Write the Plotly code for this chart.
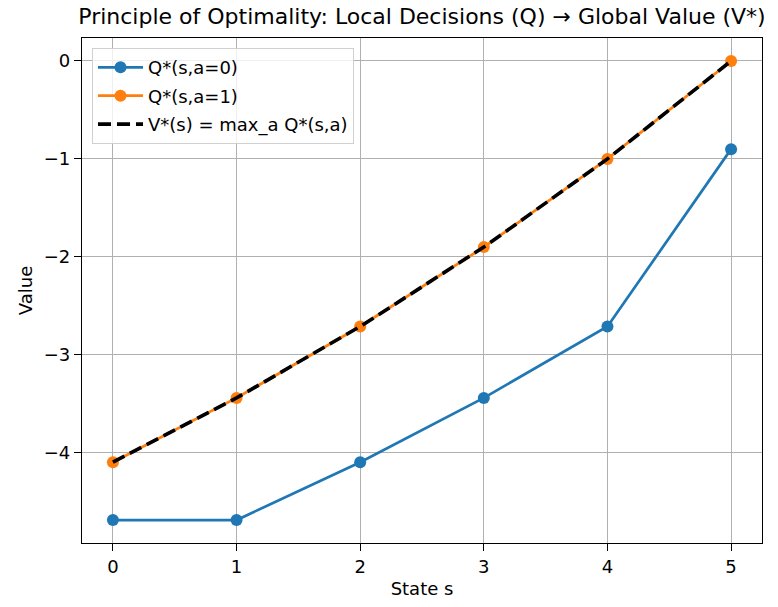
import plotly.graph_objects as go

# State indices and optimal action values
states = [0, 1, 2, 3, 4, 5]
q_a0 = [-4.6856, -4.6856, -4.0951, -3.439, -2.71, -0.9]
q_a1 = [-4.0951, -3.439, -2.71, -1.9, -1.0, 0.0]
v_star = [max(a, b) for a, b in zip(q_a0, q_a1)]

x_ticks = [0, 1, 2, 3, 4, 5]
y_ticks = [0, -1, -2, -3, -4]

BLUE = "#1f77b4"
ORANGE = "#ff7f0e"
FONT = "DejaVu Sans"

fig = go.Figure()
fig.add_trace(go.Scatter(
    x=states, y=q_a0, mode="lines+markers", name="Q*(s,a=0)", legendgroup="a0",
    line=dict(color=BLUE, width=2.7), marker=dict(color=BLUE, size=12),
))
fig.add_trace(go.Scatter(
    x=states, y=q_a1, mode="lines+markers", name="Q*(s,a=1)", legendgroup="a1",
    line=dict(color=ORANGE, width=2.7), marker=dict(color=ORANGE, size=12),
))
fig.add_trace(go.Scatter(
    x=states, y=v_star, mode="lines", name="V*(s) = max_a Q*(s,a)", legendgroup="v",
    line=dict(color="black", width=3.6, dash="13px,6px"),
))

axis_common = dict(
    showgrid=True, gridcolor="#b0b0b0", gridwidth=1.4,
    showline=True, linecolor="black", linewidth=1.4, mirror=True,
    ticks="outside", ticklen=7, tickwidth=1.4, tickcolor="black",
    zeroline=False, tickfont=dict(family=FONT, size=18, color="black"),
)

fig.update_layout(
    width=778, height=607,
    margin=dict(l=82, r=16, t=38, b=61),
    paper_bgcolor="white", plot_bgcolor="white",
    font=dict(family=FONT, color="black"),
    title=dict(
        text="Principle of Optimality: Local Decisions (Q) \u2192 Global Value (V*)",
        x=0.5, xref="paper", xanchor="center",
        y=1 - 16 / 607, yref="container", yanchor="middle",
        font=dict(family=FONT, size=22, color="black"),
    ),
    xaxis=dict(
        range=[-0.25, 5.25], tickvals=x_ticks,
        title=dict(text="State s", font=dict(family=FONT, size=18), standoff=6),
        **axis_common,
    ),
    yaxis=dict(
        range=[-4.6856 - 0.2343, 0.2343], tickvals=y_ticks,
        title=dict(text="Value", font=dict(family=FONT, size=18), standoff=6),
        **axis_common,
    ),
    legend=dict(
        x=0.0147, y=0.98, xanchor="left", yanchor="top",
        bgcolor="rgba(255,255,255,0.8)", bordercolor="#d0d0d0", borderwidth=1,
        font=dict(family=FONT, size=18, color="black"),
        itemwidth=45, tracegroupgap=2,
    ),
    showlegend=True,
)

fig.write_html("out.html")
